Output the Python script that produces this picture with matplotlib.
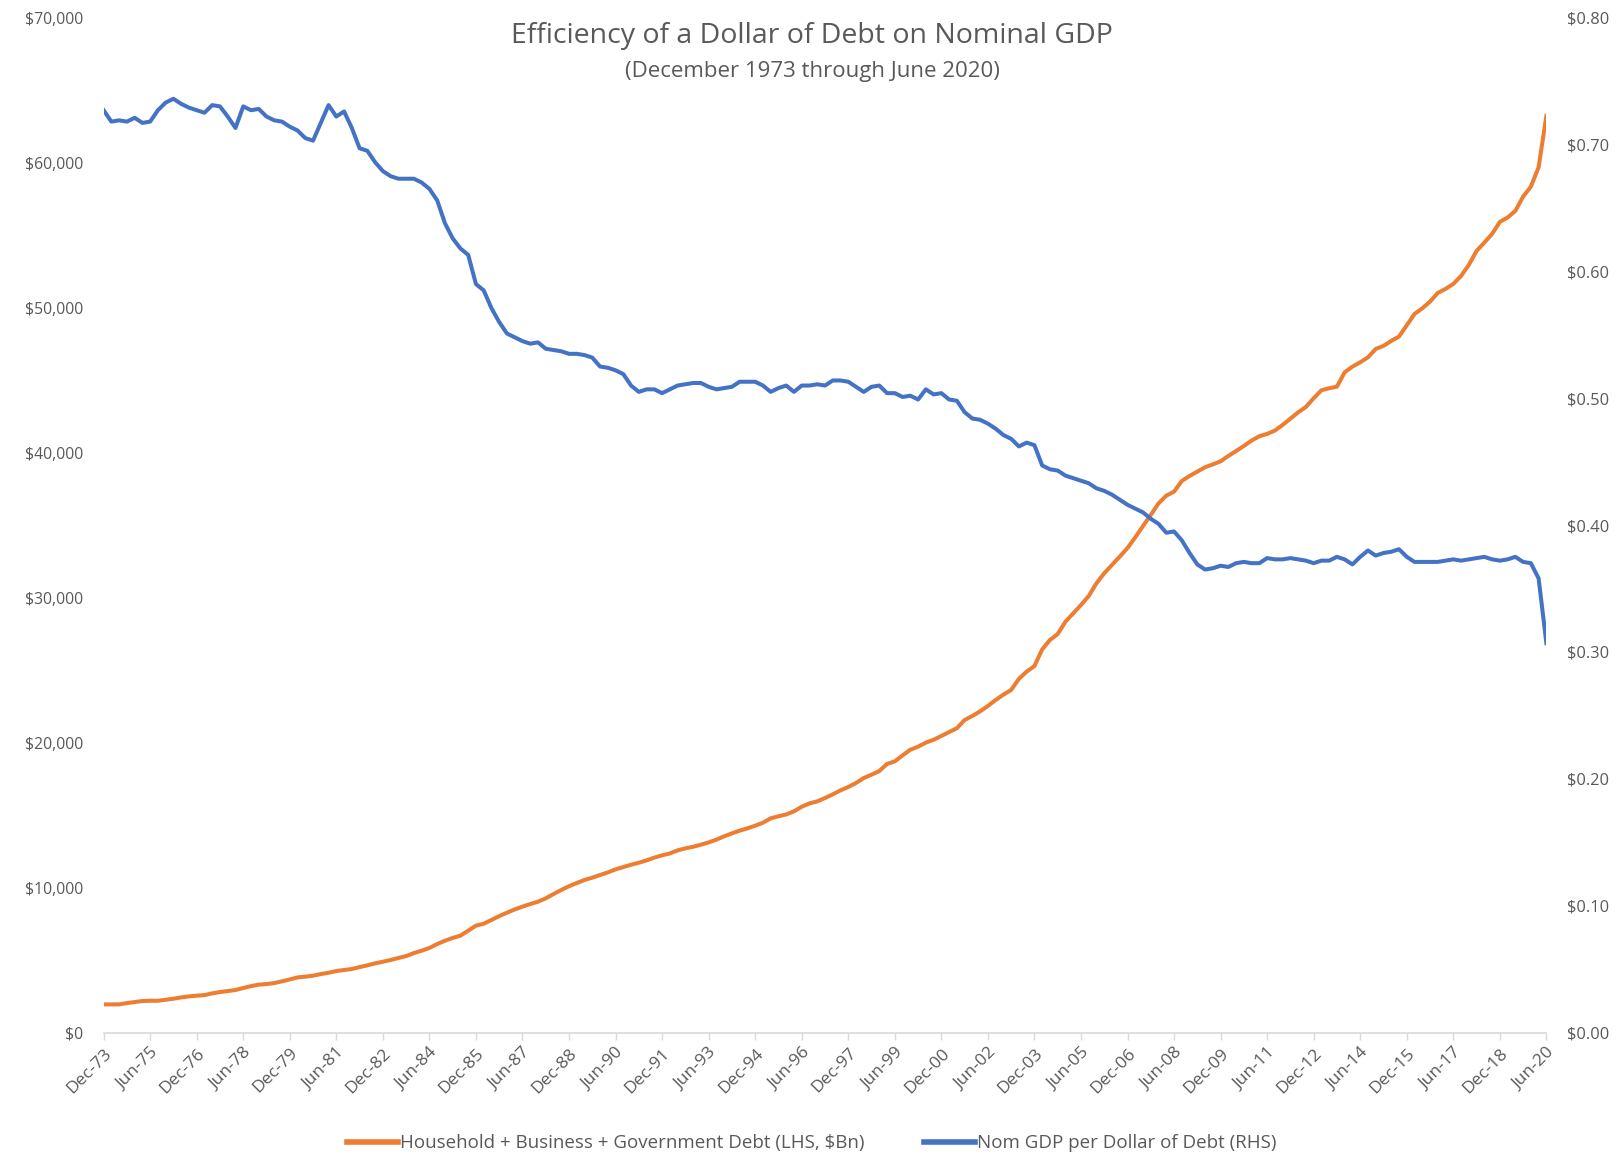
import matplotlib
matplotlib.use("Agg")
import matplotlib.pyplot as plt
from matplotlib.ticker import FuncFormatter

# Quarterly observations, Dec-1973 .. Jun-2020 (187 quarters)
debt_bn = [
    1950, 1950, 1950, 2040, 2110, 2180, 2200, 2200, 2270, 2340,
    2430, 2500, 2550, 2590, 2710, 2800, 2870, 2940, 3080, 3210,
    3310, 3350, 3420, 3540, 3670, 3810, 3860, 3930, 4040, 4130,
    4250, 4320, 4390, 4520, 4640, 4780, 4890, 5010, 5150, 5280,
    5490, 5650, 5840, 6110, 6340, 6530, 6690, 7030, 7380, 7510,
    7770, 8040, 8270, 8500, 8690, 8870, 9030, 9260, 9560, 9840,
    10100, 10320, 10530, 10690, 10870, 11050, 11260, 11420, 11580, 11720,
    11880, 12070, 12230, 12360, 12570, 12710, 12820, 12960, 13120, 13310,
    13540, 13740, 13930, 14090, 14270, 14480, 14780, 14920, 15050, 15260,
    15580, 15810, 15950, 16180, 16430, 16710, 16940, 17220, 17560, 17790,
    18040, 18530, 18710, 19120, 19510, 19720, 20000, 20200, 20460, 20730,
    20990, 21560, 21840, 22160, 22530, 22940, 23310, 23630, 24400, 24900,
    25280, 26430, 27080, 27490, 28340, 28920, 29490, 30110, 30990, 31680,
    32250, 32830, 33420, 34160, 34940, 35700, 36500, 37030, 37310, 38040,
    38390, 38690, 38990, 39190, 39400, 39770, 40110, 40460, 40830, 41130,
    41290, 41520, 41910, 42340, 42780, 43150, 43750, 44300, 44440, 44550,
    45540, 45930, 46230, 46570, 47150, 47360, 47700, 48000, 48780, 49560,
    49950, 50410, 51010, 51290, 51630, 52180, 52940, 53910, 54480, 55080,
    55910, 56210, 56670, 57650, 58340, 59680, 63220,
]

gdp_per_debt = [
    0.727, 0.718, 0.719, 0.718, 0.721, 0.717, 0.718, 0.727, 0.733, 0.736,
    0.732, 0.729, 0.727, 0.725, 0.731, 0.730, 0.722, 0.713, 0.730, 0.727,
    0.728, 0.722, 0.719, 0.718, 0.714, 0.711, 0.705, 0.703, 0.717, 0.731,
    0.722, 0.726, 0.713, 0.697, 0.695, 0.686, 0.679, 0.675, 0.673, 0.673,
    0.673, 0.670, 0.665, 0.656, 0.638, 0.626, 0.618, 0.613, 0.590, 0.585,
    0.571, 0.560, 0.551, 0.548, 0.545, 0.543, 0.544, 0.539, 0.538, 0.537,
    0.535, 0.535, 0.534, 0.532, 0.525, 0.524, 0.522, 0.519, 0.510, 0.505,
    0.507, 0.507, 0.504, 0.507, 0.510, 0.511, 0.512, 0.512, 0.509, 0.507,
    0.508, 0.509, 0.513, 0.513, 0.513, 0.510, 0.505, 0.508, 0.510, 0.505,
    0.510, 0.510, 0.511, 0.510, 0.514, 0.514, 0.513, 0.509, 0.505, 0.509,
    0.510, 0.504, 0.504, 0.501, 0.502, 0.499, 0.507, 0.503, 0.504, 0.499,
    0.498, 0.489, 0.484, 0.483, 0.480, 0.476, 0.471, 0.468, 0.462, 0.465,
    0.463, 0.447, 0.444, 0.443, 0.439, 0.437, 0.435, 0.433, 0.429, 0.427,
    0.424, 0.420, 0.416, 0.413, 0.410, 0.405, 0.401, 0.394, 0.395, 0.388,
    0.378, 0.369, 0.365, 0.366, 0.368, 0.367, 0.370, 0.371, 0.370, 0.370,
    0.374, 0.373, 0.373, 0.374, 0.373, 0.372, 0.370, 0.372, 0.372, 0.375,
    0.373, 0.369, 0.375, 0.380, 0.376, 0.378, 0.379, 0.381, 0.375, 0.371,
    0.371, 0.371, 0.371, 0.372, 0.373, 0.372, 0.373, 0.374, 0.375, 0.373,
    0.372, 0.373, 0.375, 0.371, 0.370, 0.358, 0.307,
]

# One label every six quarters
tick_labels = [
    "Dec-73", "Jun-75", "Dec-76", "Jun-78", "Dec-79", "Jun-81", "Dec-82",
    "Jun-84", "Dec-85", "Jun-87", "Dec-88", "Jun-90", "Dec-91", "Jun-93",
    "Dec-94", "Jun-96", "Dec-97", "Jun-99", "Dec-00", "Jun-02", "Dec-03",
    "Jun-05", "Dec-06", "Jun-08", "Dec-09", "Jun-11", "Dec-12", "Jun-14",
    "Dec-15", "Jun-17", "Dec-18", "Jun-20",
]

ORANGE = "#ED7D31"
BLUE = "#4472C4"
TEXT = "#595959"

plt.rcParams["font.family"] = ["Open Sans", "DejaVu Sans"]

fig = plt.figure(figsize=(16.24, 11.56), dpi=100)
ax = fig.add_axes([0.0638, 0.1067, 0.8884, 0.8781])
ax2 = ax.twinx()

quarters = list(range(len(debt_bn)))
l1, = ax.plot(quarters, debt_bn, color=ORANGE, lw=2.9,
              label="Household + Business + Government Debt (LHS, $Bn)")
l2, = ax2.plot(quarters, gdp_per_debt, color=BLUE, lw=2.9,
               label="Nom GDP per Dollar of Debt (RHS)")

ax.set_xlim(0, len(debt_bn) - 1)
ax.set_ylim(0, 70000)
ax2.set_ylim(0, 0.8)
ax.set_yticks(range(0, 70001, 10000))
ax2.set_yticks([i / 10 for i in range(9)])
ax.yaxis.set_major_formatter(FuncFormatter(lambda v, p: f"${v:,.0f}"))
ax2.yaxis.set_major_formatter(FuncFormatter(lambda v, p: f"${v:.2f}"))

ax.set_xticks(range(0, len(debt_bn), 6))
ax.set_xticklabels(tick_labels, rotation=45, ha="right", rotation_mode="anchor")

for a in (ax, ax2):
    for s in a.spines.values():
        s.set_visible(False)
ax.spines["bottom"].set_visible(True)
ax.spines["bottom"].set_color("#D9D9D9")
ax.spines["bottom"].set_linewidth(1.2)

ax.tick_params(axis="x", colors="#D9D9D9", length=5, width=1, labelcolor=TEXT,
               labelsize=12.5, pad=4)
ax.tick_params(axis="y", length=0, labelcolor=TEXT, labelsize=11.3, pad=15)
ax2.tick_params(axis="y", length=0, labelcolor=TEXT, labelsize=11.8, pad=15)

fig.text(0.5, 0.969, "Efficiency of a Dollar of Debt on Nominal GDP",
         ha="center", va="center", fontsize=20.5, color=TEXT)
fig.text(0.5, 0.938, "(December 1973 through June 2020)",
         ha="center", va="center", fontsize=16, color=TEXT)

leg = fig.legend(handles=[l1, l2], loc="center", bbox_to_anchor=(0.5, 0.011),
                 ncol=2, frameon=False, fontsize=13.5, handlelength=2.7,
                 handletextpad=0.1, columnspacing=3.2, labelcolor=TEXT)
for h in leg.get_lines():
    h.set_linewidth(4)

fig.savefig("out.png", dpi=100)
